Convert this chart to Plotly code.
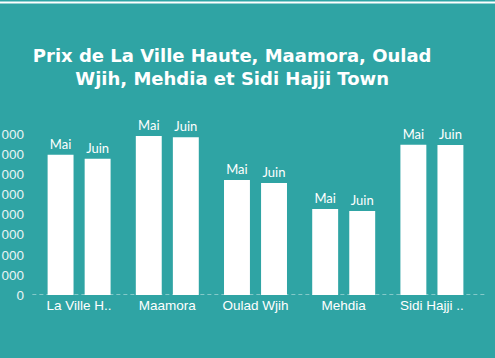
import plotly.graph_objects as go

categories = ["La Ville Haute", "Maamora", "Oulad Wjih", "Mehdia", "Sidi Hajji Town"]
tick_labels = ["La Ville H..", "Maamora", "Oulad Wjih", "Mehdia", "Sidi Hajji .."]
mai = [6970, 7910, 5720, 4280, 7470]
juin = [6770, 7840, 5570, 4180, 7460]
series_names = ["Mai", "Juin"]
y_ticks = [0, 1000, 2000, 3000, 4000, 5000, 6000, 7000, 8000]

BG = "#2fa4a4"

fig = go.Figure()
for name, vals in zip(series_names, [mai, juin]):
    fig.add_trace(go.Bar(
        x=categories, y=vals, name=name,
        marker=dict(color="white", line=dict(width=0)),
        text=[name] * len(vals), textposition="outside",
        textfont=dict(family="Lato", size=13, color="white"),
        cliponaxis=False,
    ))

fig.update_layout(
    width=495, height=358,
    paper_bgcolor=BG, plot_bgcolor=BG,
    margin=dict(l=35, r=19, t=114, b=63, autoexpand=False),
    barmode="group", bargap=0.16, bargroupgap=0.30,
    showlegend=False,
    title=dict(
        text="<b>Prix de La Ville Haute, Maamora, Oulad<br>Wjih, Mehdia et Sidi Hajji Town</b>",
        font=dict(family="DejaVu Sans", size=18, color="white"),
        x=0.469, xanchor="center", xref="container",
        y=1 - 61.5 / 358, yanchor="middle", yref="container",
    ),
    separators=". ",
    xaxis=dict(
        tickmode="array", tickvals=categories, ticktext=tick_labels,
        tickfont=dict(family="Liberation Sans", size=13.5, color="white"),
        showgrid=False, showline=False, zeroline=False, automargin=False,
    ),
    yaxis=dict(
        range=[0, 9000], tickmode="array", tickvals=y_ticks,
        tickformat=",d",
        tickfont=dict(family="Liberation Sans", size=13.5, color="#e8f4f4"),
        showgrid=False, zeroline=False, showline=False, automargin=False,
        ticklabelstandoff=10,
    ),
    shapes=[
        dict(type="line", xref="paper", yref="y", x0=-0.006, x1=1.02, y0=0, y1=0,
             line=dict(color="rgba(255,255,255,0.55)", width=1.5, dash="4px,3px"), layer="below"),
        dict(type="line", xref="paper", yref="paper", x0=-0.2, x1=1.2, y0=1.616, y1=1.616,
             line=dict(color="white", width=2)),
    ],
)

fig.write_html("out.html", config={"displayModeBar": False},
               post_script="document.body.style.margin='0';")
